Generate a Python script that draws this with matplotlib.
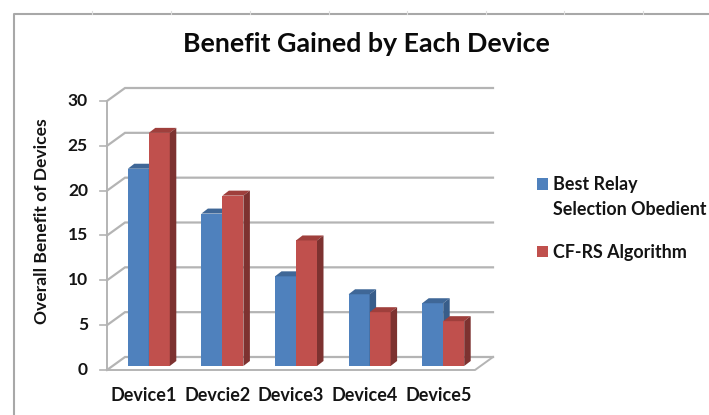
import matplotlib
matplotlib.use("Agg")
import matplotlib.pyplot as plt
from matplotlib.patches import Polygon, Patch
from matplotlib.lines import Line2D

categories = ["Device1", "Devcie2", "Device3", "Device4", "Device5"]
best_relay = [22, 17, 10, 8, 7]
cf_rs = [26, 19, 14, 6, 5]
y_ticks = [0, 5, 10, 15, 20, 25, 30]
series_names = ["Best Relay\nSelection Obedient", "CF-RS Algorithm"]
title = "Benefit Gained by Each Device"
y_label = "Overall Benefit of Devices"

W, H = 709, 415
plt.rcParams["font.family"] = ["Lato", "DejaVu Sans"]
plt.rcParams["font.weight"] = "bold"
fig = plt.figure(figsize=(W / 100, H / 100), dpi=100)

L, R, T, B = 107, 475, 101, 370
ax = fig.add_axes([L / W, 1 - B / H, (R - L) / W, (B - T) / H])
ax.set_xlim(0, len(categories))
ax.set_ylim(0, 30)
ax.axis("off")

GRID = "#b4b4b4"
BLUE, BLUE_TOP, BLUE_SIDE = "#4f81bd", "#3f6797", "#385d8a"
RED, RED_TOP, RED_SIDE = "#c0504d", "#9f3f3c", "#7d3230"

# pixel -> data scale for the oblique projection
px = len(categories) / (R - L)
py = 30 / (B - T)
wall_dx, wall_dy = 18 * px, 13 * py
bar_off_x, bar_off_y = 5 * px, 4 * py
depth_x, depth_y = 6.5 * px, 5 * py
bar_w = 21 * px
n = len(categories)

for t in y_ticks:
    ax.plot([0, wall_dx, n + wall_dx], [t, t + wall_dy, t + wall_dy],
            color=GRID, lw=1.6, clip_on=False, zorder=1, solid_joinstyle="miter")
    ax.plot([-7 * px, 0], [t, t], color=GRID, lw=1.2, clip_on=False, zorder=1)
ax.plot([0, 0], [0, 30], color=GRID, lw=1.4, clip_on=False, zorder=1)
ax.plot([0, n, n + wall_dx], [0, 0, wall_dy], color=GRID, lw=1.4,
        clip_on=False, zorder=1)


def bar3d(x0, v, front, top, side, z):
    x = x0 + bar_off_x
    x1 = x + bar_w
    b = bar_off_y
    v_ = v + b
    ax.bar(x, v, width=bar_w, bottom=b, align="edge", color=front,
           zorder=z, clip_on=False)
    ax.add_patch(Polygon([(x, v_), (x1, v_), (x1 + depth_x, v_ + depth_y),
                          (x + depth_x, v_ + depth_y)], closed=True,
                         facecolor=top, edgecolor="none", zorder=z, clip_on=False))
    ax.add_patch(Polygon([(x1, b), (x1 + depth_x, b + depth_y),
                          (x1 + depth_x, v_ + depth_y), (x1, v_)], closed=True,
                         facecolor=side, edgecolor="none", zorder=z, clip_on=False))


for i in range(n):
    c = i + 0.5
    bar3d(c - bar_w, best_relay[i], BLUE, BLUE_TOP, BLUE_SIDE, 3 + i * 0.01)
    bar3d(c, cf_rs[i], RED, RED_TOP, RED_SIDE, 4 + i * 0.01)

TXT = "#141414"
for t in y_ticks:
    ax.text(-19 * px, t, str(t), ha="right", va="center", fontsize=12.5,
            color=TXT, clip_on=False)
for i, name in enumerate(categories):
    ax.text(i + 0.5, -25 * py, name, ha="center", va="center",
            fontsize=13, color=TXT, clip_on=False)

fig.text(366 / W, 1 - 44 / H, title, ha="center", va="center",
         fontsize=19.3, color="#0a0a0a")
fig.text(42 / W, 1 - 221 / H, y_label, rotation=90, ha="center", va="center",
         fontsize=12.6, color=TXT)

# legend
handles = [Patch(facecolor=BLUE), Patch(facecolor=RED)]
leg = fig.legend(handles, series_names, loc="upper left",
                 bbox_to_anchor=(537 / W, 1 - 176 / H), frameon=False, fontsize=12.9,
                 handlelength=0.62, handleheight=0.62, handletextpad=0.25,
                 labelspacing=1.45, borderpad=0, borderaxespad=0, labelcolor=TXT)
leg.get_texts()[0].set_linespacing(1.55)
# the swatch of a two-line entry sits beside its first line
first_swatch = leg.get_patches()[0]
first_swatch.set_y(first_swatch.get_y() + 9.8)

# outer chart frame and the faint ticks above it
FRAME = "#a8a8a8"
fig.add_artist(Line2D([14 / W, 14 / W, 1], [0, 1 - 14 / H, 1 - 14 / H],
                      color=FRAME, lw=1.5))
for xp in [92, 171, 250, 329, 407, 486, 564, 643]:
    fig.add_artist(Line2D([xp / W, xp / W], [1 - 14 / H, 1 - 11 / H],
                          color="#dddddd", lw=0.8))

fig.savefig("out.png", dpi=100, facecolor="white")
